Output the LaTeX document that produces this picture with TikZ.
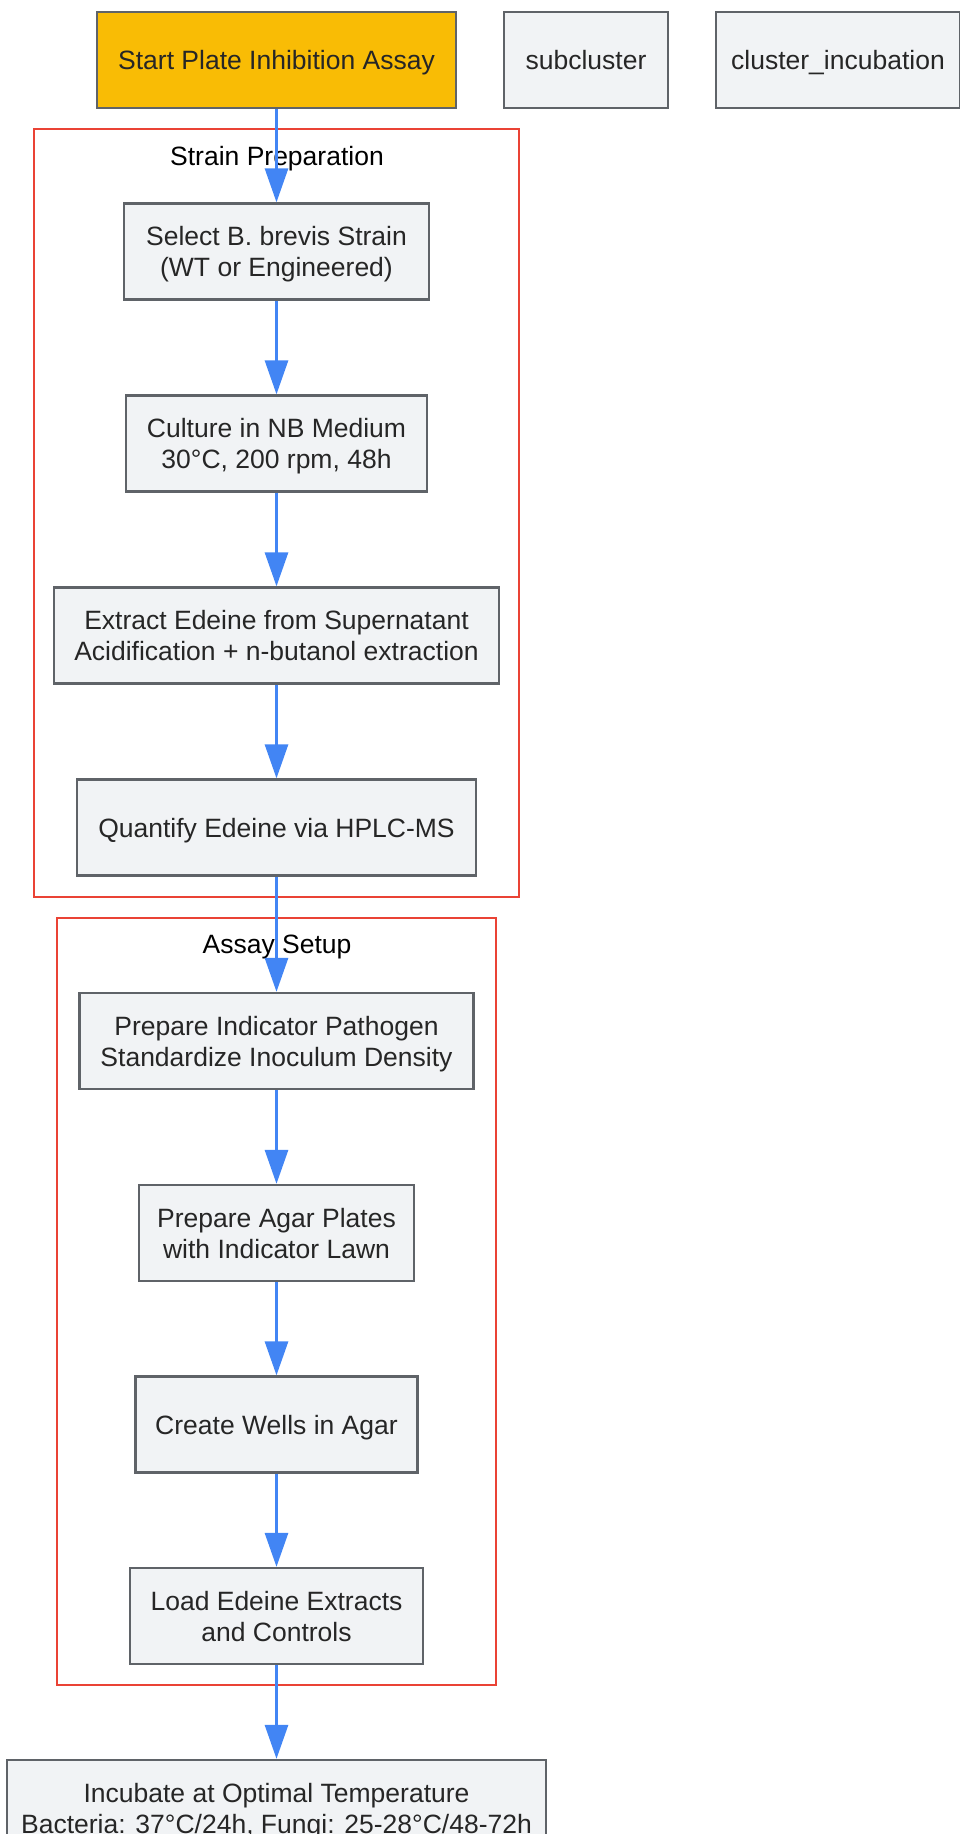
\documentclass[tikz,border=0pt]{standalone}
\usepackage{fontspec}
\setmainfont{Liberation Sans}
\usepackage{xcolor}
\usetikzlibrary{arrows.meta, positioning, calc}
\definecolor{nodefill}{HTML}{F1F3F5}
\definecolor{nodeline}{HTML}{5F6368}
\definecolor{startfill}{HTML}{F9BC05}
\definecolor{clusterred}{HTML}{EA4335}
\definecolor{flowblue}{HTML}{4285F4}

\tikzset{
  box/.style={draw=nodeline, fill=nodefill, line width=2.3pt,
    inner sep=0pt, align=center, font=\fontsize{26.5}{31}\selectfont, text=black!85},
  oneline/.style={box, text height=57.5pt, text depth=38.5pt},
  twoline/.style={box, text height=73.2pt, text depth=22.8pt},
  startbox/.style={oneline, fill=startfill},
  cluster/.style={draw=clusterred, line width=2.3pt},
  clusterlabel/.style={font=\fontsize{26.5}{31}\selectfont, text=black},
  flow/.style={draw=flowblue, line width=3pt, -{Triangle[length=34pt,width=23pt]}}
}

\begin{document}
\begin{tikzpicture}[x=1pt, y=-1pt]
    \useasboundingbox (0,0) rectangle (959,1834);

    % clusters
    \draw [cluster] (34,129) rectangle (519,897);
    \node [clusterlabel] (strainlbl) at (277,158.5) {Strain Preparation};
    \draw [cluster] (57,918) rectangle (496,1685);
    \node [clusterlabel] (assaylbl) at (277,946.5) {Assay Setup};

    % top row
    \node [startbox, minimum width=359pt] (start) at (276.5,60) {Start Plate Inhibition Assay};
    \node [oneline, minimum width=164pt] (subcl) at (586,60) {subcluster};
    \node [oneline, minimum width=244pt] (clinc) at (838,60) {cluster\_incubation};

    % strain preparation
    \node [twoline, minimum width=305pt] (select) at (276.5,251.5) {Select B. brevis Strain\\
      (WT or Engineered)};
    \node [twoline, minimum width=301pt] (culture) at (276.5,443.5) {Culture in NB Medium\\
      30°C, 200 rpm, 48h};
    \node [twoline, minimum width=445pt] (extract) at (276.5,635.5) {Extract Edeine from Supernatant\\
      Acidification + n-butanol extraction};
    \node [oneline, minimum width=399pt] (quantify) at (276.5,827.5) {Quantify Edeine via HPLC-MS};

    % assay setup
    \node [twoline, minimum width=394pt] (pathogen) at (276.5,1041) {Prepare Indicator Pathogen\\
      Standardize Inoculum Density};
    \node [twoline, minimum width=275pt] (plates) at (276.5,1233) {Prepare Agar Plates\\
      with Indicator Lawn};
    \node [oneline, minimum width=282pt] (wells) at (276.5,1424.5) {Create Wells in Agar};
    \node [twoline, minimum width=293pt] (load) at (276.5,1616) {Load Edeine Extracts\\
      and Controls};

    % incubation
    \node [twoline, minimum width=539pt] (incubate) at (276.5,1808) {Incubate at Optimal Temperature\\
      Bacteria: 37°C/24h, Fungi: 25-28°C/48-72h};

    \draw [flow] (start) -- (select);
    \draw [flow] (select) -- (culture);
    \draw [flow] (culture) -- (extract);
    \draw [flow] (extract) -- (quantify);
    \draw [flow] (quantify) -- (pathogen);
    \draw [flow] (pathogen) -- (plates);
    \draw [flow] (plates) -- (wells);
    \draw [flow] (wells) -- (load);
    \draw [flow] (load) -- (incubate);
  \end{tikzpicture}
\end{document}
